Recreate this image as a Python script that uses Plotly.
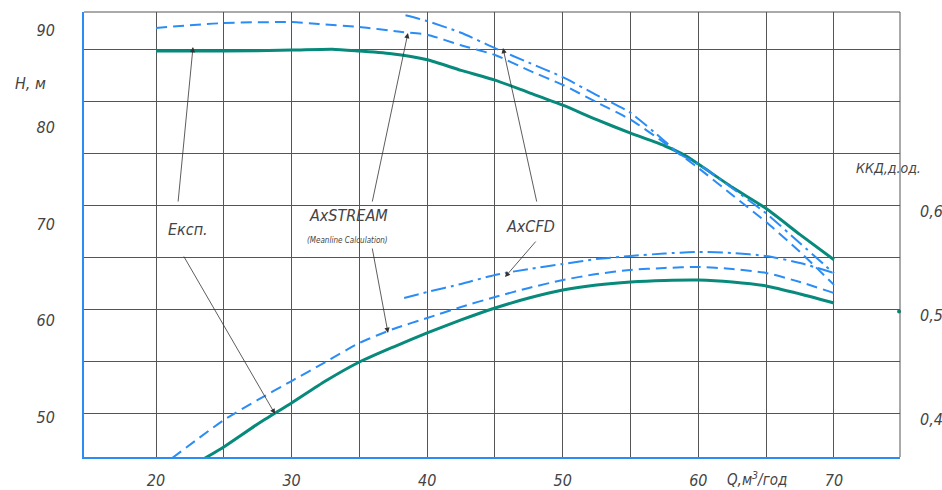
import plotly.graph_objects as go

# ---------------- data ----------------
q_exp_h = [20, 25, 30, 33, 35, 37.5, 40, 42.5, 45, 47.5, 50, 52.5, 55, 57.5, 59, 60, 62.5, 65, 67.5, 70]
h_exp = [87.9, 87.9, 88.0, 88.1, 87.9, 87.6, 87.0, 85.9, 84.9, 83.6, 82.3, 80.8, 79.4, 78.1, 77.1, 76.2, 73.8, 71.6, 68.9, 66.3]

q_axs_h = [20, 25, 30, 32, 35, 38, 40, 42.5, 45, 47.5, 50, 52.5, 55, 57.5, 58.6, 60, 62.5, 65, 67.5, 70]
h_axs = [90.3, 90.8, 90.9, 90.7, 90.4, 89.9, 89.6, 88.5, 87.5, 85.9, 84.4, 82.6, 80.8, 78.4, 77.25, 75.8, 73.0, 70.2, 67.1, 63.7]

q_cfd_h = [38.4, 40, 42.5, 45, 47.5, 50, 52.5, 55, 57.5, 58.6, 60, 62.5, 65, 67.5, 70]
h_cfd = [91.6, 91.0, 89.8, 88.2, 86.7, 85.2, 83.35, 81.5, 78.6, 77.25, 76.2, 73.7, 71.1, 68.0, 64.9]

q_exp_e = [23.5, 25, 27.5, 30, 32.5, 35, 37.5, 40, 42.5, 45, 47.5, 50, 52.5, 55, 57.5, 60, 62.5, 65, 67.5, 70]
e_exp = [0.3567, 0.3683, 0.3904, 0.4106, 0.4317, 0.450, 0.4644, 0.4779, 0.4904, 0.5019, 0.5115, 0.5192,
         0.5240, 0.5269, 0.5284, 0.5288, 0.5269, 0.5231, 0.5154, 0.5067]

q_axs_e = [21.2, 25, 27.5, 30, 32.5, 35, 37.5, 40, 42.5, 45, 47.5, 50, 52.5, 55, 57.5, 60, 62.5, 65, 67.5, 70]
e_axs = [0.3577, 0.3942, 0.4135, 0.4317, 0.450, 0.4683, 0.4817, 0.4923, 0.5029, 0.5125, 0.5212, 0.5288,
         0.5346, 0.5385, 0.5404, 0.5413, 0.5394, 0.5356, 0.5269, 0.5163]

q_cfd_e = [38.3, 40, 42.5, 45, 47.5, 50, 52.5, 55, 57.5, 60, 62.5, 65, 67.5, 70]
e_cfd = [0.5115, 0.5173, 0.5250, 0.5337, 0.5394, 0.5442, 0.5490, 0.5519, 0.5543, 0.5558, 0.5548, 0.5519, 0.5452, 0.5356]

# small teal mark on the right border
q_mark = [74.8]
e_mark = [0.4985]

x_ticks = [20, 25, 30, 35, 40, 45, 50, 55, 60, 65, 70]
x_ticktext = ["20", "", "30", "", "40", "", "50", "", "60", "", "70"]
h_ticks = [50, 60, 70, 80, 90]
e_ticks = [0.40, 0.45, 0.50, 0.55, 0.60, 0.65, 0.70, 0.75]
e_ticktext = ["0,4", "", "0,5", "", "0,6", "", "", ""]

# ---------------- style ----------------
TEAL = "#078a7b"
BLUE = "#2a8cf5"
GRID = "#555555"
TXT = "#444444"
FONT = "DejaVu Sans Condensed, Liberation Sans Narrow, sans-serif"
DASH = "11px,6px"
DASHDOT = "15px,5px,3px,5px"

fig = go.Figure()

# head curves (left axis)
fig.add_trace(go.Scatter(x=q_exp_h, y=h_exp, mode="lines", line=dict(color=TEAL, width=3, shape="spline", smoothing=0.6)))
fig.add_trace(go.Scatter(x=q_axs_h, y=h_axs, mode="lines", line=dict(color=BLUE, width=2, dash=DASH, shape="spline", smoothing=0.6)))
fig.add_trace(go.Scatter(x=q_cfd_h, y=h_cfd, mode="lines", line=dict(color=BLUE, width=2, dash=DASHDOT, shape="spline", smoothing=0.6)))

# efficiency curves (right axis)
fig.add_trace(go.Scatter(x=q_exp_e, y=e_exp, yaxis="y2", mode="lines", line=dict(color=TEAL, width=3, shape="spline", smoothing=0.6)))
fig.add_trace(go.Scatter(x=q_axs_e, y=e_axs, yaxis="y2", mode="lines", line=dict(color=BLUE, width=2, dash=DASH, shape="spline", smoothing=0.6)))
fig.add_trace(go.Scatter(x=q_cfd_e, y=e_cfd, yaxis="y2", mode="lines", line=dict(color=BLUE, width=2, dash=DASHDOT, shape="spline", smoothing=0.6)))
fig.add_trace(go.Scatter(x=q_mark, y=e_mark, yaxis="y2", mode="markers", cliponaxis=False,
                         marker=dict(color=TEAL, size=4, symbol="circle")))

tickfont = dict(family=FONT, size=16, color=TXT, style="italic")

fig.update_layout(
    width=942, height=490,
    margin=dict(l=84, r=42, t=12, b=33, autoexpand=False),
    paper_bgcolor="white", plot_bgcolor="white",
    showlegend=False,
    xaxis=dict(range=[14.69, 74.87], tickvals=x_ticks, ticktext=x_ticktext, automargin=False,
               showgrid=True, gridcolor=GRID, gridwidth=1, zeroline=False,
               showline=True, linecolor=BLUE, linewidth=2, ticks="",
               tickfont=tickfont, ticklabelstandoff=8),
    yaxis=dict(range=[45.88, 91.946], tickvals=h_ticks, showgrid=False, zeroline=False, automargin=False,
               showline=True, linecolor=BLUE, linewidth=2, ticks="",
               tickfont=tickfont, ticklabelstandoff=24),
    yaxis2=dict(range=[0.35865, 0.7865], overlaying="y", side="right", automargin=False,
                tickvals=e_ticks, ticktext=e_ticktext,
                showgrid=True, gridcolor=GRID, gridwidth=1, zeroline=False,
                showline=False, ticks="", tickfont=tickfont,
                ticklabelstandoff=19, ticklabelshift=5),
)

# top and right frame
fig.add_shape(type="line", xref="paper", yref="paper", x0=0, x1=1, y0=1, y1=1, line=dict(color=GRID, width=1))
fig.add_shape(type="line", xref="paper", yref="paper", x0=1, x1=1, y0=0, y1=1, line=dict(color=GRID, width=1))

# callout arrows: (tail Q, tail H, tip Q, tip H)
arrows = [
    (21.62, 72.17, 22.73, 88.32),
    (21.99, 66.79, 28.78, 50.33),
    (35.93, 72.17, 38.58, 89.77),
    (35.93, 67.62, 37.11, 58.72),
    (48.10, 72.17, 45.59, 88.22),
    (48.10, 68.34, 45.74, 64.51),
]
for tq, th, hq, hh in arrows:
    fig.add_annotation(x=hq, y=hh, ax=tq, ay=th, xref="x", yref="y", axref="x", ayref="y",
                       text="", showarrow=True, arrowhead=2, arrowsize=1.3, arrowwidth=0.8,
                       arrowcolor="#333333", standoff=0, startstandoff=0)

labfont = dict(family=FONT, size=16, color=TXT, style="italic")
fig.add_annotation(x=22.36, y=69.38, xref="x", yref="y", text="Експ.", showarrow=False, font=labfont)
fig.add_annotation(x=34.16, y=70.83, xref="x", yref="y", text="AxSTREAM", showarrow=False, font=labfont)
fig.add_annotation(x=34.09, y=68.34, xref="x", yref="y", text="(Meanline Calculation)", showarrow=False,
                   font=dict(family=FONT, size=8, color=TXT, style="italic"))
fig.add_annotation(x=47.65, y=69.69, xref="x", yref="y", text="AxCFD", showarrow=False, font=labfont)

fig.add_annotation(x=-0.066, y=0.840, xref="paper", yref="paper", xanchor="center", yanchor="middle",
                   text="H, м", showarrow=False, font=dict(family=FONT, size=16, color=TXT, style="italic"))
fig.add_annotation(x=0.9865, y=0.649, xref="paper", yref="paper", xanchor="center", yanchor="middle",
                   text="ККД,д.од.", showarrow=False, font=dict(family=FONT, size=14, color=TXT, style="italic"))
fig.add_annotation(x=0.825, y=-0.049, xref="paper", yref="paper", xanchor="center", yanchor="middle",
                   text="Q,м<sup>3</sup>/год", showarrow=False,
                   font=dict(family=FONT, size=15, color=TXT, style="italic"))

fig.write_html("out.html", config={"displayModeBar": False},
               post_script="document.body.style.margin='0';document.body.style.overflow='hidden';")
